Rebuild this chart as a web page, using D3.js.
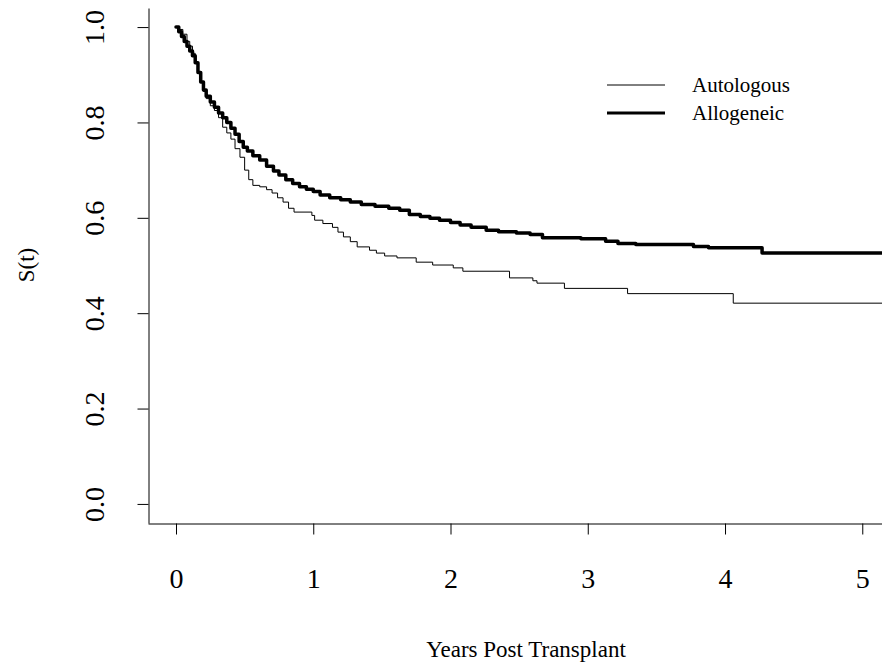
<!DOCTYPE html>
<html>
<head>
<meta charset="utf-8">
<script src="https://cdn.jsdelivr.net/npm/d3@7"></script>
<style>
  body { margin: 0; background: #fff; }
  svg { display: block; font-family: "Liberation Serif", "Times New Roman", serif; }
</style>
</head>
<body>
<svg id="chart" width="882" height="669"></svg>
<script>
// Kaplan-Meier step curves (time in years, survival)
var autoTimes = [0, 0.02, 0.05, 0.08, 0.10, 0.12, 0.14, 0.16, 0.18, 0.20, 0.22, 0.25, 0.28, 0.31, 0.34,
  0.37, 0.40, 0.43, 0.466, 0.50, 0.53, 0.56, 0.61, 0.66, 0.70, 0.74, 0.78, 0.82, 0.86, 0.99, 1.01,
  1.07, 1.14, 1.18, 1.22, 1.27, 1.32, 1.41, 1.46, 1.52, 1.61, 1.75, 1.87, 2.02, 2.09, 2.43, 2.60,
  2.63, 2.83, 3.29, 4.06, 5.3];
var autoSurv = [1.0, 0.995, 0.985, 0.97, 0.96, 0.945, 0.925, 0.905, 0.885, 0.865, 0.85, 0.835, 0.825, 0.81, 0.79,
  0.778, 0.765, 0.745, 0.727, 0.70, 0.68, 0.668, 0.665, 0.659, 0.652, 0.642, 0.633, 0.62, 0.612, 0.605, 0.595,
  0.588, 0.58, 0.57, 0.56, 0.55, 0.539, 0.532, 0.526, 0.52, 0.516, 0.507, 0.501, 0.495, 0.488, 0.474, 0.468,
  0.463, 0.452, 0.441, 0.421, 0.421];

var alloTimes = [0, 0.02, 0.04, 0.06, 0.08, 0.10, 0.12, 0.14, 0.16, 0.18, 0.20, 0.22, 0.25, 0.28, 0.31,
  0.34, 0.37, 0.40, 0.43, 0.46, 0.49, 0.52, 0.56, 0.61, 0.66, 0.71, 0.75, 0.80, 0.85, 0.90, 0.95,
  1.00, 1.05, 1.12, 1.20, 1.27, 1.35, 1.45, 1.55, 1.63, 1.70, 1.78, 1.85, 1.92, 2.00, 2.07, 2.15,
  2.26, 2.35, 2.48, 2.58, 2.67, 2.95, 3.13, 3.22, 3.35, 3.77, 3.88, 4.27, 5.3];
var alloSurv = [1.0, 0.99, 0.98, 0.97, 0.96, 0.95, 0.94, 0.925, 0.905, 0.885, 0.868, 0.855, 0.843, 0.832, 0.82,
  0.81, 0.80, 0.788, 0.775, 0.76, 0.748, 0.74, 0.73, 0.721, 0.708, 0.698, 0.69, 0.68, 0.672, 0.665, 0.66,
  0.655, 0.648, 0.642, 0.638, 0.633, 0.628, 0.624, 0.62, 0.616, 0.607, 0.603, 0.599, 0.595, 0.59, 0.585, 0.58,
  0.574, 0.571, 0.568, 0.565, 0.558, 0.556, 0.551, 0.546, 0.544, 0.540, 0.537, 0.526, 0.526];

var xTicks = [0, 1, 2, 3, 4, 5];
var yTicks = [0, 0.2, 0.4, 0.6, 0.8, 1.0];
var seriesNames = ['Autologous', 'Allogeneic'];

var svg = d3.select('#chart');

// plot region, R style 4% padding
var x = d3.scaleLinear().domain([-0.204, 5.304]).range([148, 904]);
var y = d3.scaleLinear().domain([-0.04, 1.04]).range([523, 8]);

svg.append('clipPath').attr('id', 'plotclip')
  .append('rect').attr('x', 148).attr('y', 8).attr('width', 756).attr('height', 515);

//y axis
var yAxis = svg.append('g')
  .attr('transform', 'translate(148.5,0)')
  .call(d3.axisLeft(y).tickValues(yTicks).tickFormat(d3.format('.1f')).tickSize(11).tickSizeOuter(0));
yAxis.selectAll('text')
  .attr('transform', 'rotate(-90)')
  .attr('x', 0).attr('y', -45).attr('dy', 0)
  .style('text-anchor', 'middle')
  .style('font-size', '28px')
  .style('font-family', '"Liberation Serif", serif')
  .style('fill', '#000');

//x axis
var xAxis = svg.append('g')
  .attr('transform', 'translate(0,523.5)')
  .call(d3.axisBottom(x).tickValues(xTicks).tickFormat(d3.format('d')).tickSize(11).tickSizeOuter(0));
xAxis.selectAll('text')
  .attr('y', 64).attr('dy', 0)
  .style('font-size', '28px')
  .style('font-family', '"Liberation Serif", serif')
  .style('fill', '#000');

svg.selectAll('.domain, .tick line').attr('stroke', '#000').attr('stroke-width', 1);

//axis titles
svg.append('text')
  .attr('x', 526).attr('y', 657)
  .style('text-anchor', 'middle')
  .style('font-size', '23px')
  .text('Years Post Transplant');

svg.append('text')
  .attr('transform', 'translate(34,' + 265 + ') rotate(-90)')
  .style('text-anchor', 'middle')
  .style('font-size', '23px')
  .text('S(t)');

//curves
var line = d3.line()
  .x(function(d) { return x(d[0]); })
  .y(function(d) { return y(d[1]); })
  .curve(d3.curveStepAfter);

var curves = svg.append('g').attr('clip-path', 'url(#plotclip)');
curves.append('path')
  .datum(d3.zip(alloTimes, alloSurv))
  .attr('d', line)
  .attr('fill', 'none')
  .attr('stroke', '#000')
  .attr('stroke-width', 3.5)
  .attr('stroke-linejoin', 'round')
  .attr('stroke-linecap', 'round');
curves.append('path')
  .datum(d3.zip(autoTimes, autoSurv))
  .attr('d', line)
  .attr('fill', 'none')
  .attr('stroke', '#000')
  .attr('stroke-width', 1);

//legend
var legend = svg.append('g');
var lw = [1, 3];
seriesNames.forEach(function(name, i) {
  var ly = 85 + i * 28;
  legend.append('line')
    .attr('x1', 607).attr('x2', 665)
    .attr('y1', ly).attr('y2', ly)
    .attr('stroke', '#000')
    .attr('stroke-width', lw[i]);
  legend.append('text')
    .attr('x', 692).attr('y', ly)
    .attr('dy', '0.33em')
    .style('font-size', '21px')
    .text(name);
});
</script>
</body>
</html>
